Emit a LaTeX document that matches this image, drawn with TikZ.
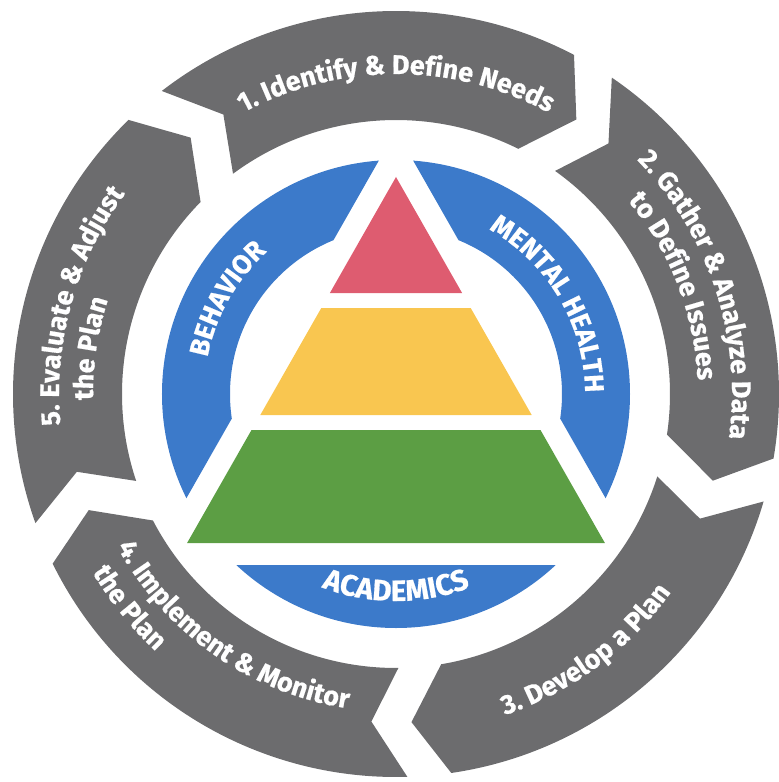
\documentclass[tikz,border=0pt]{standalone}
\usepackage{fontspec}
\setmainfont{Fira Sans}
\newfontfamily\heavyfont{Fira Sans}[FakeBold=0.6]
\usetikzlibrary{decorations.text}
\definecolor{ringgray}{RGB}{108,108,110}
\definecolor{ringblue}{RGB}{60,122,202}
\definecolor{pyrred}{RGB}{222,92,112}
\definecolor{pyryellow}{RGB}{249,198,80}
\definecolor{pyrgreen}{RGB}{92,158,68}
\newcommand\glbl{\heavyfont\bfseries\fontsize{27}{32}\selectfont}
\newcommand\blbl{\heavyfont\bfseries\fontsize{27}{32}\selectfont}
\newcommand\albl{\heavyfont\bfseries\fontsize{29.5}{34}\selectfont}
\tikzset{
  arclabel/.style={decorate, decoration={text along path, text align=center, text color=white, text={#1}}},
  segfill/.style={fill=ringgray},
  bluefill/.style={fill=ringblue}
}
\begin{document}
\begin{tikzpicture}[x=1pt,y=1pt]
\useasboundingbox (-396,-388) rectangle (383,394);
% outer ring of five arrow segments
\foreach \s in {131,59,-13,-85,-157}{
  \pgfmathsetmacro\e{\s-72}
  \path[segfill] ({\s-3.3}:383) arc[start angle={\s-3.3}, end angle={\e+3.3}, radius=383]
    -- ({\e+3.5-5.8}:328.5) -- ({\e+4.5}:274)
    arc[start angle={\e+4.5}, end angle={\s-4.5}, radius=274]
    -- ({\s-3.5-5.8}:328.5) -- cycle;
}
% blue ring
\begin{scope}
  \clip (77.8,400) -- (-378.2,-400) -- (-500,-400) -- (-500,400) -- cycle;
  \path[bluefill, even odd rule] (0,0) circle[radius=234] (0,0) circle[radius=166];
\end{scope}
\begin{scope}
  \clip (-77.8,400) -- (378.2,-400) -- (500,-400) -- (500,400) -- cycle;
  \path[bluefill, even odd rule] (0,0) circle[radius=234] (0,0) circle[radius=166];
\end{scope}
\begin{scope}
  \clip (-300,-171) rectangle (300,-300);
  \path[bluefill] (0,0) circle[radius=234];
\end{scope}
% pyramid
\fill[pyrred] (0,217) -- (-66.1,101) -- (66.1,101) -- cycle;
\fill[pyryellow] (-74.7,86) -- (74.7,86) -- (135.7,-21) -- (-135.7,-21) -- cycle;
\fill[pyrgreen] (-144.5,-36) -- (144.5,-36) -- (208.9,-149) -- (-208.9,-149) -- cycle;
% gray labels
\path[arclabel={|\glbl|1. Identify {\&} Define Needs}] (135:320) arc[start angle=135, end angle=45, radius=320];
\path[arclabel={|\glbl|2. Gather {\&} Analyze Data}] (68.3:336) arc[start angle=68.3, end angle=-31.7, radius=336];
\path[arclabel={|\glbl|to Define Issues}] (71.2:302) arc[start angle=71.2, end angle=-28.8, radius=302];
\path[arclabel={|\glbl|3. Develop a Plan}] (256.5:339) arc[start angle=256.5, end angle=356.5, radius=339];
\path[arclabel={|\glbl|4. Implement {\&} Monitor}] (185:318) arc[start angle=185, end angle=285, radius=318];
\path[arclabel={|\glbl|the Plan}] (188.7:352) arc[start angle=188.7, end angle=248.7, radius=352];
\path[arclabel={|\glbl|5. Evaluate {\&} Adjust}] (214.4:337) arc[start angle=214.4, end angle=114.4, radius=337];
\path[arclabel={|\glbl|the Plan}] (221.5:303) arc[start angle=221.5, end angle=121.5, radius=303];
% blue labels
\path[arclabel={|\blbl|BEHAVIOR}] (190.6:192) arc[start angle=190.6, end angle=110.6, radius=192];
\path[arclabel={|\blbl|MENTAL HEALTH}] (75.5:189) arc[start angle=75.5, end angle=-14.5, radius=189];
\path[arclabel={|\albl|ACADEMICS}] (230:207) arc[start angle=230, end angle=310, radius=207];
\end{tikzpicture}
\end{document}
